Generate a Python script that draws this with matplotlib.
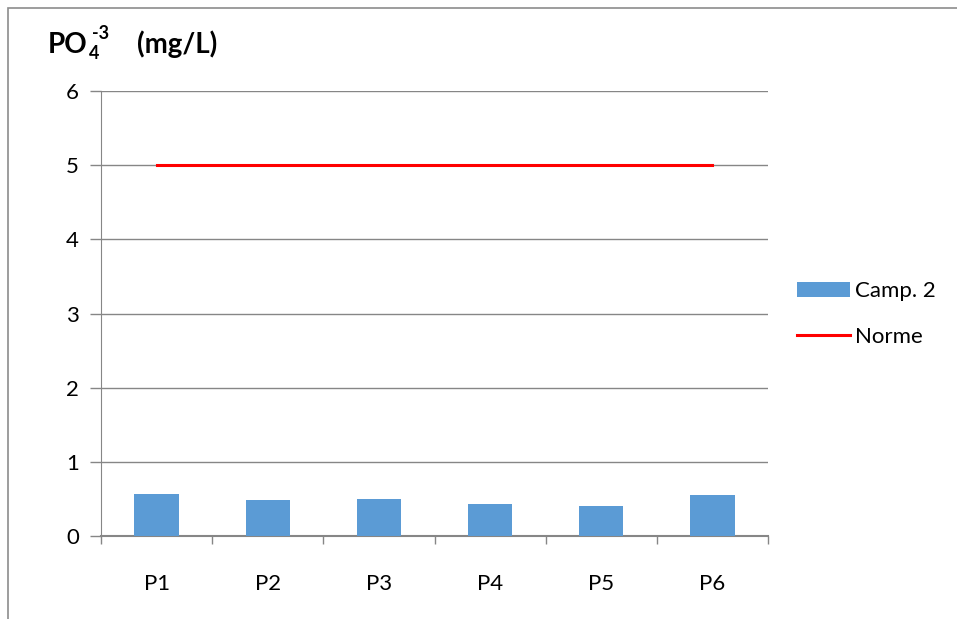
import numpy as np
import matplotlib.pyplot as plt
from matplotlib.patches import Rectangle

# data
points = ["P1", "P2", "P3", "P4", "P5", "P6"]
camp2 = [0.57, 0.49, 0.50, 0.43, 0.40, 0.55]
norme = [5, 5, 5, 5, 5, 5]
yticks = [0, 1, 2, 3, 4, 5, 6]

plt.rcParams['font.family'] = ['Lato', 'DejaVu Sans']

W, H = 957, 619
fig = plt.figure(figsize=(W / 100, H / 100), dpi=100)

# outer chart border
fig.patches.append(Rectangle((8 / W, -0.1), 1.2, 1 - 8 / H + 0.1,
                             transform=fig.transFigure, fill=False,
                             edgecolor="#8c8c8c", linewidth=1.2))

ax = fig.add_axes([101 / W, 1 - 536 / H, (768 - 101) / W, (536 - 91) / H])
x = np.arange(len(points))

grid_c = "#868686"
bars = ax.bar(x, camp2, width=0.4, color="#5B9BD5", label="Camp. 2", zorder=3)
line, = ax.plot(x, norme, color="#FF0000", linewidth=2.2, label="Norme", zorder=4)

ax.set_xlim(-0.5, 5.5)
ax.set_ylim(0, 6)
ax.set_yticks(yticks)
ax.set_xticks(x)
ax.set_xticklabels(points)
ax.set_xticks(np.arange(-0.5, 6, 1), minor=True)
ax.tick_params(axis="x", which="major", length=0, pad=27, labelsize=16)
ax.tick_params(axis="x", which="minor", length=6, color=grid_c, width=1)
ax.tick_params(axis="y", length=8, color=grid_c, width=1, labelsize=16, pad=8)
ax.yaxis.grid(True, color=grid_c, linewidth=1, zorder=0)
ax.set_axisbelow(True)

for s in ["top", "right"]:
    ax.spines[s].set_visible(False)
ax.spines["left"].set_color(grid_c)
ax.spines["bottom"].set_color(grid_c)
ax.spines["bottom"].set_linewidth(1.5)

# title pieces: PO4-3 (mg/L)
def ftxt(px, py, s, size):
    return fig.text(px / W, 1 - py / H, s, fontsize=size, fontweight="bold",
                    va="baseline", ha="left")

renderer = fig.canvas.get_renderer()
po = ftxt(48, 53, "PO", 20)
right = po.get_window_extent(renderer).x1
ftxt(right + 1, 59, "4", 13)
ftxt(right + 4, 39, "-3", 13)
ftxt(137, 53, "(mg/L)", 20)

ax.legend([bars, line], ["Camp. 2", "Norme"], loc="center left",
          bbox_to_anchor=(797 / W, 1 - 314 / H),
          bbox_transform=fig.transFigure, frameon=False, fontsize=16,
          handlelength=2.4, handletextpad=0.2, labelspacing=1.15,
          borderaxespad=0, borderpad=0)

fig.savefig("out.png", dpi=100)
